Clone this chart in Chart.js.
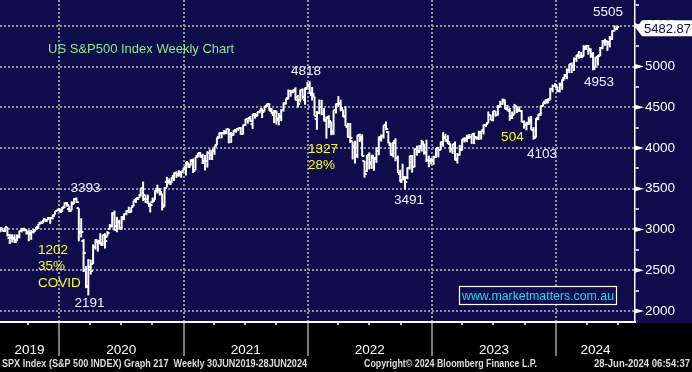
<!DOCTYPE html>
<html>
<head>
<meta charset="utf-8">
<title>US S&amp;P500 Index Weekly Chart</title>
<script src="https://cdn.jsdelivr.net/npm/chart.js@4.4.1/dist/chart.umd.min.js"></script>
<style>
html,body{margin:0;padding:0;background:#000;overflow:hidden;}
#box{position:relative;width:692px;height:372px;}
canvas{display:block;}
</style>
</head>
<body>
<div id="box"><canvas id="chart" width="692" height="372"></canvas></div>
<script>
// ---------------- data (weekly bars, week ending dates from 5 Jul 2019 to 28 Jun 2024) ----------------
const firstWeekEnding = '2019-07-05';

const open = [
 2964,2979,3012,2978,3025,2898,2894,2901,2866,2910,2980,2996,2996,2967,2944,2965,2996,3033,3078,3081,3123,3117,3144,3141,3183,3224,
 3248,3218,3273,3330,3248,3235,3319,3370,3258,2975,2864,2508,2291,2498,2578,2782,2845,2854,2815,2938,2914,3000,3038,3199,2993,3094,3018,3155,3191,3224,3219,3288,3356,3381,3419,3507,3369,3369,3285,3333,3366,3500,3494,3441,3297,3583,3601,3579,3653,3694,3675,3684,3723,
 3764,3803,3788,3855,3731,3899,3940,3885,3843,3844,3943,3916,3969,4034,4124,4183,4186,4192,4228,4169,4168,4217,4230,4248,4173,4285,4356,4372,4297,4409,4407,4437,4479,4450,4513,4536,4474,4404,4443,4348,4385,4463,4554,4610,4701,4689,4712,4628,4592,4710,4587,4733,
 4778,4656,4632,4356,4431,4505,4412,4332,4363,4323,4188,4463,4541,4547,4462,4385,4262,4130,4081,4013,3920,4149,4134,3838,3715,3920,3798,3880,3883,3965,4112,4145,4281,4195,4042,3910,4084,3883,3675,3610,3618,3639,3754,3902,3770,3982,3956,4005,4053,3954,3853,3843,
 3853,3884,3999,3979,4054,4119,4096,4053,3992,4055,3855,3917,3987,4102,4098,4123,4129,4166,4136,4127,4190,4217,4282,4310,4405,4345,4450,4405,4506,4543,4585,4492,4460,4389,4415,4510,4464,4454,4314,4284,4289,4343,4216,4139,4365,4407,4513,4555,4569,4593,4725,4758,
 4745,4704,4772,4855,4886,4957,5026,4989,5094,5132,5111,5123,5219,5257,5218,5150,4988,5115,5142,5225,5308,5315,5297,5341,5433,5460
];
const high = [
 2996,3014,3018,3028,3028,2944,2943,2939,2940,2985,3020,3022,3002,2993,2993,3008,3027,3067,3098,3120,3127,3154,3150,3183,3226,3248,
 3258,3276,3330,3338,3293,3347,3385,3393,3260,3137,2882,2553,2637,2631,2818,2880,2868,2955,2932,2955,2980,3068,3211,3233,3155,3120,3165,3198,3236,3280,3272,3352,3387,3399,3509,3588,3426,3428,3330,3393,3482,3550,3502,3441,3521,3646,3628,3644,3699,3712,3726,3702,3760,
 3827,3823,3861,3870,3891,3937,3950,3929,3914,3960,3983,3978,4021,4129,4191,4195,4219,4238,4236,4198,4218,4234,4249,4257,4287,4356,4372,4393,4415,4430,4440,4469,4481,4513,4546,4549,4486,4466,4457,4429,4475,4560,4608,4718,4714,4718,4744,4652,4713,4731,4741,4808,
 4818,4749,4632,4453,4595,4590,4490,4385,4402,4323,4465,4546,4637,4593,4471,4513,4308,4307,4081,4090,4158,4177,4168,3838,3914,3946,3919,3880,4013,4140,4167,4280,4325,4203,4062,4076,4119,3907,3733,3807,3643,3762,3905,3912,3993,4028,4034,4100,4053,4101,3906,3878,
 3906,4003,4015,4078,4195,4176,4156,4057,4048,4079,3938,4039,4110,4134,4164,4170,4170,4187,4143,4212,4212,4291,4299,4448,4409,4456,4456,4528,4578,4607,4595,4528,4490,4448,4541,4513,4511,4465,4338,4324,4385,4394,4256,4366,4415,4521,4560,4595,4609,4739,4778,4793,
 4755,4802,4842,4907,4976,5030,5049,5111,5141,5190,5180,5261,5265,5264,5222,5176,5114,5139,5239,5325,5342,5315,5375,5447,5505,5490
];
const low = [
 2952,2966,2975,2970,2914,2822,2840,2834,2856,2891,2964,2978,2938,2856,2874,2952,2990,3005,3066,3075,3091,3114,3070,3124,3180,3223,
 3213,3215,3264,3280,3214,3235,3315,3328,2856,2902,2478,2280,2191,2447,2575,2753,2728,2817,2798,2767,2914,2999,3025,2984,2966,3000,3000,3115,3175,3200,3209,3284,3327,3363,3405,3349,3329,3313,3209,3323,3366,3441,3416,3234,3280,3518,3554,3570,3595,3633,3647,3636,3713,
 3663,3758,3783,3694,3725,3885,3885,3805,3723,3760,3853,3853,3917,4034,4118,4118,4164,4168,4057,4062,4151,4188,4206,4165,4165,4272,4300,4321,4234,4360,4386,4425,4368,4448,4506,4456,4418,4305,4288,4278,4330,4447,4537,4595,4630,4672,4585,4495,4559,4600,4532,4733,
 4662,4582,4395,4223,4415,4401,4327,4115,4245,4157,4161,4424,4506,4450,4381,4269,4124,4062,3859,3811,3876,4074,3900,3637,3705,3739,3742,3721,3818,3911,4079,4115,4218,4057,3907,3887,3838,3693,3584,3604,3491,3617,3735,3698,3764,3906,3938,3956,3918,3827,3764,3800,
 3794,3877,3885,3974,4015,4079,4047,3944,3928,3847,3809,3908,3968,4068,4072,4113,4050,4048,4100,4098,4103,4166,4259,4305,4341,4327,4385,4397,4503,4527,4474,4458,4335,4356,4413,4430,4447,4316,4238,4216,4282,4223,4103,4128,4342,4393,4510,4537,4546,4593,4683,4751,
 4683,4682,4714,4843,4845,4918,4920,4946,5057,5095,5104,5123,5203,5146,5107,4953,4987,5012,5127,5211,5256,5191,5234,5325,5433,5447
];
const close = [
 2990,3014,2977,3026,2932,2919,2889,2847,2926,2979,3007,2992,2962,2952,2970,2986,3023,3067,3093,3120,3110,3141,3146,3169,3221,3240,
 3235,3265,3330,3295,3226,3328,3380,3338,2954,2972,2711,2305,2541,2489,2790,2875,2837,2831,2930,2864,2955,3044,3194,3041,3098,3009,3130,3185,3225,3216,3271,3351,3373,3397,3508,3427,3341,3319,3298,3348,3477,3484,3465,3270,3510,3585,3558,3638,3699,3663,3709,3703,3756,
 3824,3768,3841,3714,3887,3934,3907,3811,3842,3943,3913,3975,4020,4129,4185,4180,4181,4233,4174,4156,4204,4230,4247,4166,4281,4352,4370,4327,4412,4395,4437,4468,4442,4509,4535,4459,4433,4455,4357,4391,4471,4545,4605,4697,4683,4698,4595,4538,4712,4620,4726,4766,
 4677,4662,4398,4432,4500,4419,4349,4385,4329,4204,4463,4543,4546,4488,4392,4272,4132,4123,4024,3901,4158,4109,3901,3675,3912,3825,3899,3863,3962,4130,4145,4280,4228,4058,3924,4067,3873,3693,3586,3640,3583,3752,3901,3771,3993,3965,4026,4072,3934,3852,3845,3840,
 3895,3999,3973,4071,4136,4090,4079,3970,4046,3862,3917,3971,4109,4105,4137,4133,4169,4136,4124,4192,4205,4282,4299,4410,4348,4450,4399,4505,4536,4582,4478,4464,4370,4406,4516,4457,4450,4320,4288,4308,4327,4224,4117,4358,4415,4514,4559,4595,4604,4719,4755,4770,
 4697,4784,4840,4891,4959,5027,5006,5089,5137,5124,5117,5234,5254,5204,5123,4967,5100,5128,5223,5303,5305,5278,5347,5432,5465,5482.87
];

const yearLabels = ['2019','2020','2021','2022','2023','2024'];
const yearStarts = ['2020-01-01','2021-01-01','2022-01-01','2023-01-01','2024-01-01'];
const quarterStarts = ['2019-10-01',
 '2020-04-01','2020-07-01','2020-10-01',
 '2021-04-01','2021-07-01','2021-10-01',
 '2022-04-01','2022-07-01','2022-10-01',
 '2023-04-01','2023-07-01','2023-10-01',
 '2024-04-01','2024-07-01'];
const majorTicks = [2000,2500,3000,3500,4000,4500,5000,5500];
const minorTicks = [2250,2750,3250,3750,4250,4750,5250,5750];

// text notes: [text, week position, price level, kind]
const notes = [
 ['4818', 129.4, 4945, 'val'],
 ['5505', 256.3, 5669, 'val'],
 ['4953', 252.5, 4810, 'val'],
 ['3393', 36.8, 3509, 'val'],
 ['2191', 38.5, 2098, 'val'],
 ['3491', 172.7, 3362, 'val'],
 ['4103', 228.5, 3926, 'val'],
 ['504', 216.1, 4135, 'pct'],
 ['1202', 16.9, 2748, 'pctL'],
 ['35%', 16.9, 2552, 'pctL'],
 ['COVID', 16.9, 2344, 'pctL'],
 ['1327', 130.3, 3988, 'pctL'],
 ['28%', 130.3, 3791, 'pctL']
];
const titleText = 'US S&P500 Index Weekly Chart';
const siteText = 'www.marketmatters.com.au';
const footLeft = 'SPX Index (S&P 500 INDEX) Graph 217  Weekly 30JUN2019-28JUN2024';
const footMid = 'Copyright\u00A9 2024 Bloomberg Finance L.P.';
const footRight = '28-Jun-2024 06:54:37';

// ---------------- styling ----------------
const NAVY = '#0f0c4b';
const GRID = '#9090a0';
const WHITE_TXT = '#eef2ff';
const YELLOW = '#ffff10';
const GREEN = '#86ea8e';
const CYAN = '#18d8f6';

const cv = document.getElementById('chart');
const c0 = cv.getContext('2d');
function hasFont(f){
  c0.font = '20px monospace'; const a = c0.measureText('5482.87 Wwi').width;
  c0.font = '20px "' + f + '", monospace'; return Math.abs(c0.measureText('5482.87 Wwi').width - a) > 0.5;
}
const NARROW = hasFont('Liberation Sans Narrow');
const NUMFAM = NARROW ? '"Liberation Sans Narrow", "Liberation Sans", Arial, sans-serif' : '"Liberation Sans", Arial, sans-serif';
const NUMSIZE = NARROW ? 15 : 13.5;
const NUMFONT = NUMSIZE + 'px ' + NUMFAM;

const wk = s => (Date.parse(s) - Date.parse(firstWeekEnding)) / 6048e5;
const X_MIN = 0.9, X_MAX = 267.6;
const yearPos = yearStarts.map(wk);
const bounds = [X_MIN].concat(yearPos, [X_MAX]);
const xMeta = [];
yearPos.forEach(v => xMeta.push({value: v, kind: 'year', label: ''}));
quarterStarts.forEach(s => xMeta.push({value: wk(s), kind: 'q', label: ''}));
yearLabels.forEach((y, i) => xMeta.push({value: (bounds[i] + bounds[i + 1]) / 2, kind: 'mid', label: y}));
xMeta.sort((a, b) => a.value - b.value);
const yAll = majorTicks.concat(minorTicks).sort((a, b) => a - b);

const bars = close.map((c, i) => ({x: i, y: [low[i], high[i]]}));

const bgPlugin = {
  id: 'bg',
  beforeDraw(ch) {
    const {ctx, chartArea: a, width, height} = ch;
    ctx.save();
    ctx.fillStyle = '#000'; ctx.fillRect(0, 0, width, height);
    ctx.fillStyle = NAVY; ctx.fillRect(0, 0, width, a.bottom + 1);
    ctx.restore();
  }
};

const ohlcPlugin = {
  id: 'ohlc',
  afterDatasetsDraw(ch) {
    const {ctx, chartArea: a, scales: {x, y}} = ch;
    ctx.save();
    ctx.beginPath(); ctx.rect(a.left, a.top, a.right - a.left, a.bottom - a.top); ctx.clip();
    ctx.strokeStyle = '#fff'; ctx.lineWidth = 2; ctx.lineCap = 'butt';
    ctx.beginPath();
    for (let i = 0; i < close.length; i++) {
      const px = x.getPixelForValue(i);
      const yo = Math.round(y.getPixelForValue(open[i]));
      const yc = Math.round(y.getPixelForValue(close[i]));
      ctx.moveTo(px - 2.2, yo); ctx.lineTo(px, yo);
      ctx.moveTo(px, yc); ctx.lineTo(px + 2.2, yc);
    }
    ctx.stroke();
    ctx.restore();
  }
};

const decoPlugin = {
  id: 'deco',
  afterDraw(ch) {
    const {ctx, chartArea: a, scales: {x, y}, width} = ch;
    ctx.save();
    // year separators in the date strip
    ctx.strokeStyle = '#7a7a7a'; ctx.lineWidth = 2;
    yearPos.forEach(v => {
      const px = Math.round(x.getPixelForValue(v));
      ctx.beginPath(); ctx.moveTo(px, a.bottom + 1); ctx.lineTo(px, a.bottom + 34); ctx.stroke();
    });
    // triangles on major price ticks
    ctx.fillStyle = '#fff';
    majorTicks.forEach(v => {
      const py = y.getPixelForValue(v);
      ctx.beginPath(); ctx.moveTo(a.right, py - 2.5); ctx.lineTo(a.right + 9, py); ctx.lineTo(a.right, py + 2.5); ctx.closePath(); ctx.fill();
    });
    // last price tag
    const last = close[close.length - 1];
    const ly = y.getPixelForValue(last) + 1;
    ctx.fillStyle = '#fff';
    ctx.beginPath();
    ctx.moveTo(a.right + 1, ly); ctx.lineTo(a.right + 7, ly - 8); ctx.lineTo(width, ly - 8);
    ctx.lineTo(width, ly + 8); ctx.lineTo(a.right + 7, ly + 8); ctx.closePath(); ctx.fill();
    ctx.fillStyle = NAVY; ctx.font = NUMFONT; ctx.textBaseline = 'middle'; ctx.textAlign = 'left';
    ctx.fillText(last.toFixed(2), a.right + 9, ly + 1, width - a.right - 10);
    // chart title
    ctx.fillStyle = GREEN; ctx.font = '13px "Liberation Sans", Arial, sans-serif';
    ctx.fillText(titleText, a.left + 48, a.top + 49);
    // notes
    ctx.font = NUMFONT;
    notes.forEach(([t, xv, yv, kind]) => {
      ctx.fillStyle = kind === 'val' ? WHITE_TXT : YELLOW;
      ctx.textAlign = kind === 'pctL' ? 'left' : 'center';
      ctx.fillText(t, x.getPixelForValue(xv), y.getPixelForValue(yv));
    });
    // website box
    const bx = a.right - 176, by = a.bottom - 36;
    ctx.fillStyle = NAVY; ctx.fillRect(bx, by, 157, 18);
    ctx.strokeStyle = '#fff'; ctx.lineWidth = 1.2; ctx.strokeRect(bx + 0.5, by + 0.5, 157, 18);
    ctx.fillStyle = CYAN; ctx.textAlign = 'left'; ctx.font = '13px "Liberation Sans", Arial, sans-serif';
    ctx.fillText(siteText, bx + 3, by + 10, 152);
    // footer
    ctx.fillStyle = '#dcdcdc'; ctx.font = 'bold 11px ' + NUMFAM; ctx.textBaseline = 'middle';
    ctx.fillText(footLeft, 2, 364, 305);
    ctx.fillText(footMid, 364, 364, 173);
    ctx.fillText(footRight, 594, 364, 96);
    ctx.restore();
  }
};

new Chart(cv, {
  type: 'bar',
  data: {
    datasets: [{
      data: bars,
      backgroundColor: '#ffffff',
      borderWidth: 0,
      barThickness: 2,
      inflateAmount: 0,
      grouped: false
    }]
  },
  options: {
    responsive: false,
    animation: false,
    devicePixelRatio: 1,
    layout: {padding: 0},
    plugins: {legend: {display: false}, tooltip: {enabled: false}, title: {display: false}},
    scales: {
      x: {
        type: 'linear', min: X_MIN, max: X_MAX, offset: false,
        afterBuildTicks: s => { s.ticks = xMeta.map(t => ({value: t.value})); },
        afterFit: s => { s.height = 50; s.paddingLeft = 0; s.paddingRight = 0; },
        ticks: {
          autoSkip: false, maxRotation: 0, minRotation: 0, padding: 17,
          color: '#ffffff', font: {family: NUMFAM, size: NUMSIZE},
          callback: (v, i) => (xMeta[i] ? xMeta[i].label : '')
        },
        grid: {
          offset: false, drawOnChartArea: true, lineWidth: 2, tickLength: 3, tickWidth: 1.5,
          color: c => (c.index !== undefined && xMeta[c.index] && xMeta[c.index].kind === 'year') ? GRID : 'rgba(0,0,0,0)',
          tickColor: c => (c.index !== undefined && xMeta[c.index] && xMeta[c.index].kind === 'q') ? '#ffffff' : 'rgba(0,0,0,0)'
        },
        border: {display: true, color: '#ffffff', width: 2, dash: [2, 2]}
      },
      y: {
        position: 'right', min: 1865, max: 5816, beginAtZero: false,
        afterBuildTicks: s => { s.ticks = yAll.map(v => ({value: v})); },
        afterFit: s => { s.width = 57; s.paddingTop = 0; s.paddingBottom = 0; },
        ticks: {
          color: '#ffffff', padding: 6, font: {family: NUMFAM, size: NUMSIZE},
          callback: v => (majorTicks.includes(v) ? String(v) : '')
        },
        grid: {
          lineWidth: 2, tickLength: 4, tickWidth: 1.5, tickColor: '#ffffff',
          color: c => (c.tick && majorTicks.includes(c.tick.value)) ? GRID : 'rgba(0,0,0,0)'
        },
        border: {display: true, color: '#ffffff', width: 1.5, dash: [2, 2]}
      }
    }
  },
  plugins: [bgPlugin, ohlcPlugin, decoPlugin]
});
</script>
</body>
</html>
